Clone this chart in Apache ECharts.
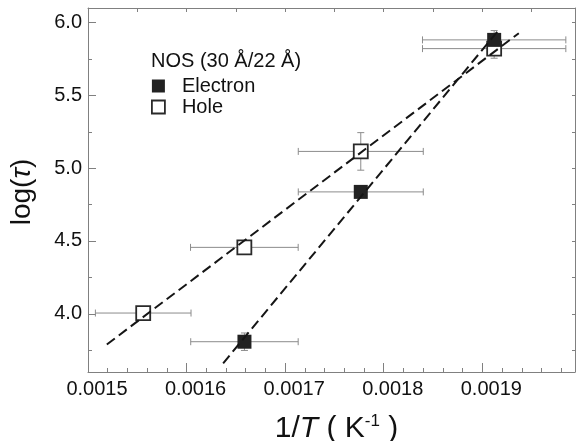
<!DOCTYPE html>
<html>
<head>
<meta charset="utf-8">
<script src="https://cdn.jsdelivr.net/npm/echarts@6/dist/echarts.min.js"></script>
<style>html,body{margin:0;padding:0;background:#fff}#chart{width:576px;height:441px}</style>
</head>
<body>
<div id="chart"></div>
<script>
const fontFamily = '"Liberation Sans", Arial, sans-serif';
const axisGray = '#808080';
const ink = '#111';

// electron (filled squares)
const elecX = [0.0016587, 0.0017767, 0.001912];
const elecY = [3.808, 4.837, 5.881];
const elecXErr = [0.0000545, 0.0000634, 0.0000727];
const elecYErr = [0.06, 0.03, 0.064];

// hole (open squares)
const holeX = [0.001556, 0.0016586, 0.0017767, 0.001912];
const holeY = [4.005, 4.456, 5.115, 5.821];
const holeXErr = [0.0000485, 0.0000546, 0.0000634, 0.0000727];
const holeYErr = [0.03, 0.03, 0.129, 0.066];

// dashed fit lines (end points)
const elecFit = [[0.0016371, 3.660], [0.0019174, 5.955]];
const holeFit = [[0.0015191, 3.789], [0.001937, 5.927]];

// ticks
const xMajor = [0.0015, 0.0016, 0.0017, 0.0018, 0.0019];
const xMinor = [0.00152, 0.00154, 0.00156, 0.00158, 0.00162, 0.00164, 0.00166, 0.00168,
  0.00172, 0.00174, 0.00176, 0.00178, 0.00182, 0.00184, 0.00186, 0.00188,
  0.00192, 0.00194, 0.00196, 0.00198];
const xTop = [0.00155, 0.0016, 0.00165, 0.0017, 0.00175, 0.0018, 0.00185, 0.0019, 0.00195];
const yMajor = [4.0, 4.5, 5.0, 5.5, 6.0];
const yMinor = [3.75, 4.25, 4.75, 5.25, 5.75];
const yRight = [3.75, 4.0, 4.25, 4.5, 4.75, 5.0, 5.25, 5.5, 5.75, 6.0];

const X_MIN = 0.0015, X_MAX = 0.001994, Y_MIN = 3.6, Y_MAX = 6.1;

const chart = echarts.init(document.getElementById('chart'), null, { renderer: 'canvas' });

function tickAxis(extra){
  return Object.assign({
    type: 'value', gridIndex: 0,
    axisLine: { show: false },
    axisLabel: { show: false },
    splitLine: { show: false },
    axisTick: { show: true, inside: true, length: 4, lineStyle: { color: axisGray, width: 1 } }
  }, extra);
}

function errorBars(xs, ys, xe, ye){
  return {
    type: 'custom', xAxisIndex: 0, yAxisIndex: 0, z: 2, silent: true,
    data: xs.map((x, i) => [x, ys[i], xe[i], ye[i]]),
    encode: { x: 0, y: 1 },
    renderItem: (params, api) => {
      const x = api.value(0), y = api.value(1), dx = api.value(2), dy = api.value(3);
      const l = api.coord([x - dx, y]), r = api.coord([x + dx, y]);
      const t = api.coord([x, y + dy]), b = api.coord([x, y - dy]);
      const cap = 3.5;
      const style = { stroke: '#8c8c8c', lineWidth: 1 };
      const seg = (x1, y1, x2, y2) => ({ type: 'line', shape: { x1, y1, x2, y2 }, style });
      return { type: 'group', children: [
        seg(l[0], l[1], r[0], r[1]),
        seg(l[0], l[1] - cap, l[0], l[1] + cap),
        seg(r[0], r[1] - cap, r[0], r[1] + cap),
        seg(t[0], t[1], b[0], b[1]),
        seg(t[0] - cap, t[1], t[0] + cap, t[1]),
        seg(b[0] - cap, b[1], b[0] + cap, b[1])
      ]};
    }
  };
}

const holeStyle = { color: '#fff', borderColor: '#2a2a2a', borderWidth: 1.8, opacity: 1 };
const elecStyle = { color: '#222', borderColor: '#222', borderWidth: 0, opacity: 1 };

const fitLine = (pts) => ({
  type: 'line', xAxisIndex: 0, yAxisIndex: 0, z: 5, silent: true,
  data: pts, symbol: 'none', showSymbol: false,
  lineStyle: { color: '#151515', width: 2, type: [10, 5] }
});

const option = {
  backgroundColor: '#fff',
  animation: false,
  textStyle: { fontFamily },
  grid: { left: 88, right: 1, top: 8, bottom: 69, containLabel: false, outerBoundsMode: 'none' },
  title: {
    text: 'NOS (30 Å/22 Å)', left: 151, top: 51, padding: 0,
    textStyle: { fontSize: 20, fontWeight: 'normal', color: ink, fontFamily }
  },
  legend: {
    data: [
      { name: 'Electron', itemStyle: elecStyle },
      { name: 'Hole', itemStyle: holeStyle }
    ],
    orient: 'vertical', left: 151, top: 76, padding: 0,
    icon: 'rect', itemWidth: 13, itemHeight: 13, itemGap: 1,
    selectedMode: false,
    textStyle: { fontSize: 20, lineHeight: 20, color: ink, fontFamily, padding: [0, 0, 0, 12] }
  },
  xAxis: [
    {
      type: 'value', position: 'bottom', min: X_MIN, max: X_MAX,
      axisLine: { show: true, lineStyle: { color: axisGray, width: 1 } },
      axisTick: { show: true, inside: true, length: 9, customValues: xMajor, lineStyle: { color: axisGray } },
      axisLabel: {
        customValues: xMajor, margin: 7, fontSize: 20, color: ink, fontFamily,
        padding: [0, 0, 0, 18], formatter: v => v.toFixed(4)
      },
      splitLine: { show: false },
      name: '{n|1/}{i|T}{n| ( K}{s|-1}{n| )}',
      nameLocation: 'middle', nameGap: 41,
      nameTextStyle: {
        color: ink, fontFamily, fontSize: 30, padding: [0, 0, 0, 10],
        rich: {
          n: { fontSize: 30, lineHeight: 32, color: ink, fontFamily },
          i: { fontSize: 30, lineHeight: 32, fontStyle: 'italic', color: ink, fontFamily },
          s: { fontSize: 17, lineHeight: 17, verticalAlign: 'top', color: ink, fontFamily }
        }
      }
    },
    tickAxis({ position: 'bottom', min: X_MIN, max: X_MAX, axisTick: { show: true, inside: true, length: 4, customValues: xMinor, lineStyle: { color: axisGray } } }),
    tickAxis({ position: 'top', min: X_MIN, max: X_MAX, axisLine: { show: true, lineStyle: { color: axisGray, width: 1 } }, axisTick: { show: true, inside: true, length: 4, customValues: xTop, lineStyle: { color: axisGray } } })
  ],
  yAxis: [
    {
      type: 'value', position: 'left', min: Y_MIN, max: Y_MAX,
      axisLine: { show: true, lineStyle: { color: axisGray, width: 1 } },
      axisTick: { show: true, inside: true, length: 8, customValues: yMajor, lineStyle: { color: axisGray } },
      axisLabel: { customValues: yMajor, margin: 6, fontSize: 20, color: ink, fontFamily, formatter: v => v.toFixed(1) },
      splitLine: { show: false },
      name: '{n|log(}{i|τ}{n|)}',
      nameLocation: 'middle', nameGap: 51,
      nameTextStyle: {
        color: ink, fontFamily, fontSize: 28, padding: [0, 4, 0, 0],
        rich: {
          n: { fontSize: 28, lineHeight: 30, color: ink, fontFamily },
          i: { fontSize: 28, lineHeight: 30, fontStyle: 'italic', color: ink, fontFamily }
        }
      }
    },
    tickAxis({ position: 'left', min: Y_MIN, max: Y_MAX, axisTick: { show: true, inside: true, length: 4, customValues: yMinor, lineStyle: { color: axisGray } } }),
    tickAxis({ position: 'right', min: Y_MIN, max: Y_MAX, axisLine: { show: true, lineStyle: { color: axisGray, width: 1 } }, axisTick: { show: true, inside: true, length: 3, customValues: yRight, lineStyle: { color: axisGray } } })
  ],
  series: [
    errorBars(holeX, holeY, holeXErr, holeYErr),
    errorBars(elecX, elecY, elecXErr, elecYErr),
    {
      name: 'Hole', type: 'scatter', xAxisIndex: 0, yAxisIndex: 0, z: 3,
      symbol: 'rect', symbolSize: 14,
      data: holeX.map((x, i) => [x, holeY[i]]),
      itemStyle: holeStyle
    },
    {
      name: 'Electron', type: 'scatter', xAxisIndex: 0, yAxisIndex: 0, z: 4,
      symbol: 'rect', symbolSize: 14,
      data: elecX.map((x, i) => [x, elecY[i]]),
      itemStyle: elecStyle
    },
    fitLine(holeFit),
    fitLine(elecFit)
  ]
};

chart.setOption(option);
</script>
</body>
</html>
